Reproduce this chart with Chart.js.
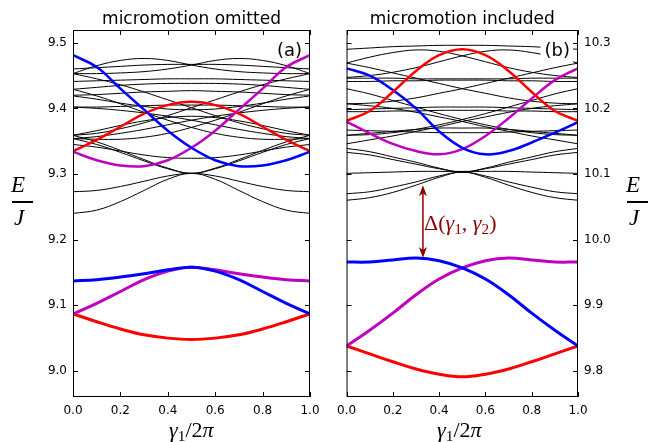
<!DOCTYPE html>
<html>
<head>
<meta charset="utf-8">
<script src="https://cdn.jsdelivr.net/npm/chart.js@4.4.1/dist/chart.umd.min.js"></script>
<style>
body { margin: 0; background: #fff; width: 659px; height: 442px; position: relative; overflow: hidden; }
canvas { position: absolute; top: 0; }
.m { position: absolute; font-family: "Liberation Serif", serif; line-height: 1; white-space: nowrap; color: #000; }
.m i { font-style: italic; }
.m sub { font-size: 0.7em; vertical-align: -0.25em; line-height: 0; }
.bar { position: absolute; height: 1.5px; background: #000; }
</style>
</head>
<body>
<canvas id="left" width="330" height="442" style="left:0"></canvas>
<canvas id="right" width="329" height="442" style="left:330px"></canvas>

<div class="m" style="left:11px;top:173px;font-size:23px"><i>E</i></div>
<div class="bar" style="left:12px;top:201px;width:21px"></div>
<div class="m" style="left:14px;top:206px;font-size:23px"><i>J</i></div>

<div class="m" style="left:626px;top:173px;font-size:23px"><i>E</i></div>
<div class="bar" style="left:627px;top:201px;width:21px"></div>
<div class="m" style="left:629px;top:206px;font-size:23px"><i>J</i></div>

<div class="m" id="xl1" style="top:419px;font-size:22px"><i>γ</i><sub>1</sub>/2<i>π</i></div>
<div class="m" id="xl2" style="top:419px;font-size:22px"><i>γ</i><sub>1</sub>/2<i>π</i></div>
<div class="m" style="left:424px;top:212px;font-size:22px;color:#8b0000">Δ(<i>γ</i><sub>1</sub>, <i>γ</i><sub>2</sub>)</div>

<script>
// gamma_1 / 2pi sample points
const gamma = [0, 0.1, 0.2, 0.3, 0.4, 0.5, 0.6, 0.7, 0.8, 0.9, 1.0];
const xTicks = [0, 0.2, 0.4, 0.6, 0.8, 1.0];
const leftTicks = [9.0, 9.1, 9.2, 9.3, 9.4, 9.5];
const rightTicks = [9.8, 9.9, 10.0, 10.1, 10.2, 10.3];

// (a) micromotion omitted - coloured bands
const aBlueTop = [9.481, 9.463, 9.430, 9.398, 9.366, 9.340, 9.321, 9.312, 9.313, 9.321, 9.334];
const aMagTop  = [9.334, 9.321, 9.313, 9.312, 9.321, 9.340, 9.366, 9.398, 9.430, 9.463, 9.481];
const aRedTop  = [9.335, 9.352, 9.372, 9.392, 9.405, 9.410, 9.405, 9.392, 9.372, 9.352, 9.335];
const aBlueBot = [9.137, 9.139, 9.143, 9.148, 9.154, 9.158, 9.152, 9.139, 9.121, 9.103, 9.087];
const aMagBot  = [9.087, 9.103, 9.121, 9.139, 9.152, 9.158, 9.154, 9.148, 9.143, 9.139, 9.137];
const aRedBot  = [9.087, 9.075, 9.064, 9.055, 9.050, 9.048, 9.050, 9.055, 9.064, 9.075, 9.087];

// (a) black bands
const aBlack = [
  [9.453, 9.465, 9.473, 9.476, 9.473, 9.466, 9.460, 9.456, 9.454, 9.453, 9.453],
  [9.453, 9.453, 9.454, 9.456, 9.460, 9.466, 9.473, 9.476, 9.473, 9.465, 9.453],
  [9.460, 9.462, 9.464, 9.466, 9.467, 9.467, 9.467, 9.466, 9.464, 9.462, 9.460],
  [9.441, 9.442, 9.443, 9.444, 9.445, 9.445, 9.445, 9.444, 9.443, 9.442, 9.441],
  [9.429, 9.432, 9.435, 9.437, 9.438, 9.438, 9.438, 9.437, 9.435, 9.432, 9.429],
  [9.420, 9.421, 9.423, 9.425, 9.426, 9.427, 9.426, 9.425, 9.423, 9.421, 9.420],
  [9.402, 9.402, 9.403, 9.404, 9.405, 9.405, 9.405, 9.404, 9.403, 9.402, 9.402],
  [9.419, 9.414, 9.408, 9.403, 9.399, 9.398, 9.399, 9.403, 9.408, 9.414, 9.419],
  [9.453, 9.445, 9.436, 9.425, 9.413, 9.401, 9.389, 9.378, 9.369, 9.362, 9.359],
  [9.359, 9.362, 9.369, 9.378, 9.389, 9.401, 9.413, 9.425, 9.436, 9.445, 9.453],
  [9.429, 9.419, 9.407, 9.394, 9.382, 9.371, 9.362, 9.356, 9.353, 9.353, 9.354],
  [9.354, 9.353, 9.353, 9.356, 9.362, 9.371, 9.382, 9.394, 9.407, 9.419, 9.429],
  [9.354, 9.357, 9.362, 9.368, 9.375, 9.382, 9.388, 9.393, 9.397, 9.400, 9.402],
  [9.402, 9.400, 9.397, 9.393, 9.388, 9.382, 9.375, 9.368, 9.362, 9.357, 9.354],
  [9.359, 9.366, 9.374, 9.381, 9.386, 9.388, 9.386, 9.381, 9.374, 9.366, 9.359],
  [9.354, 9.345, 9.333, 9.320, 9.308, 9.301, 9.308, 9.320, 9.333, 9.345, 9.354],
  [9.359, 9.349, 9.336, 9.322, 9.309, 9.301, 9.309, 9.322, 9.336, 9.349, 9.359],
  [9.345, 9.341, 9.335, 9.329, 9.325, 9.324, 9.325, 9.329, 9.335, 9.341, 9.345],
  [9.240, 9.245, 9.258, 9.275, 9.292, 9.301, 9.292, 9.275, 9.258, 9.245, 9.240],
  [9.273, 9.275, 9.281, 9.289, 9.297, 9.301, 9.297, 9.289, 9.281, 9.275, 9.273]
];

// (b) micromotion included - coloured bands
const bRedTop  = [10.181, 10.196, 10.225, 10.257, 10.281, 10.290, 10.281, 10.257, 10.225, 10.196, 10.181];
const bBlueTop = [10.261, 10.250, 10.228, 10.200, 10.165, 10.140, 10.130, 10.135, 10.148, 10.163, 10.179];
const bMagTop  = [10.180, 10.162, 10.146, 10.135, 10.130, 10.138, 10.158, 10.185, 10.215, 10.243, 10.261];
const bBlueBot = [9.966, 9.966, 9.969, 9.972, 9.968, 9.957, 9.940, 9.916, 9.888, 9.862, 9.838];
const bMagBot  = [9.838, 9.862, 9.888, 9.916, 9.940, 9.957, 9.968, 9.972, 9.969, 9.966, 9.966];
const bRedBot  = [9.838, 9.826, 9.814, 9.803, 9.795, 9.791, 9.795, 9.803, 9.814, 9.826, 9.838];

// (b) black bands
const bBlack = [
  [10.290, 10.292, 10.294, 10.295, 10.296, 10.296, 10.296, 10.295, 10.294, 10.292, 10.290],
  [10.269, 10.278, 10.285, 10.289, 10.287, 10.280, 10.271, 10.262, 10.255, 10.250, 10.247],
  [10.247, 10.250, 10.255, 10.262, 10.271, 10.280, 10.287, 10.289, 10.285, 10.278, 10.269],
  [10.246, 10.246, 10.246, 10.245, 10.245, 10.245, 10.245, 10.245, 10.246, 10.246, 10.246],
  [10.241, 10.241, 10.242, 10.242, 10.243, 10.243, 10.243, 10.242, 10.242, 10.241, 10.241],
  [10.269, 10.262, 10.254, 10.246, 10.238, 10.230, 10.223, 10.216, 10.211, 10.208, 10.207],
  [10.207, 10.208, 10.211, 10.216, 10.223, 10.230, 10.238, 10.246, 10.254, 10.262, 10.269],
  [10.230, 10.222, 10.212, 10.202, 10.192, 10.183, 10.175, 10.168, 10.163, 10.160, 10.159],
  [10.159, 10.160, 10.163, 10.168, 10.175, 10.183, 10.192, 10.202, 10.212, 10.222, 10.230],
  [10.198, 10.199, 10.200, 10.201, 10.202, 10.202, 10.202, 10.201, 10.200, 10.199, 10.198],
  [10.195, 10.195, 10.196, 10.196, 10.197, 10.197, 10.197, 10.196, 10.196, 10.195, 10.195],
  [10.159, 10.162, 10.165, 10.168, 10.170, 10.170, 10.170, 10.168, 10.165, 10.162, 10.159],
  [10.167, 10.166, 10.165, 10.164, 10.163, 10.163, 10.163, 10.164, 10.165, 10.166, 10.167],
  [10.146, 10.152, 10.158, 10.165, 10.172, 10.180, 10.187, 10.194, 10.200, 10.204, 10.207],
  [10.207, 10.204, 10.200, 10.194, 10.187, 10.180, 10.172, 10.165, 10.158, 10.152, 10.146],
  [10.139, 10.134, 10.126, 10.118, 10.109, 10.103, 10.109, 10.118, 10.126, 10.134, 10.139],
  [10.133, 10.129, 10.122, 10.115, 10.108, 10.103, 10.108, 10.115, 10.122, 10.129, 10.133],
  [10.060, 10.064, 10.072, 10.083, 10.095, 10.103, 10.095, 10.083, 10.072, 10.064, 10.060],
  [10.070, 10.073, 10.080, 10.088, 10.097, 10.103, 10.097, 10.088, 10.080, 10.073, 10.070],
  [10.101, 10.102, 10.103, 10.104, 10.104, 10.104, 10.104, 10.104, 10.103, 10.102, 10.101]
];

const blue = "#0000ff", red = "#ff0000", magenta = "#bf00bf", arrowColor = "#8b0000";

function line(values, color, width, order) {
  return {
    data: values.map((v, i) => ({ x: gamma[i], y: v })),
    borderColor: color,
    borderWidth: width,
    pointRadius: 0,
    fill: false,
    tension: 0.4,
    order: order
  };
}

// frame, inward ticks, panel label and gap arrow
const decor = {
  id: "decor",
  afterDatasetsDraw(chart, args, opts) {
    const ctx = chart.ctx, a = chart.chartArea, sx = chart.scales.x, sy = chart.scales.y;
    ctx.save();
    ctx.strokeStyle = "#000";
    ctx.lineWidth = 1;
    const seg = (x1, y1, x2, y2) => { ctx.beginPath(); ctx.moveTo(x1, y1); ctx.lineTo(x2, y2); ctx.stroke(); };
    sx.ticks.forEach(t => {
      const px = Math.round(sx.getPixelForValue(t.value)) + 0.5;
      seg(px, a.bottom, px, a.bottom - 5);
      seg(px, a.top, px, a.top + 5);
    });
    sy.ticks.forEach(t => {
      const py = Math.round(sy.getPixelForValue(t.value)) + 0.5;
      seg(a.left, py, a.left + 5, py);
      seg(a.right, py, a.right - 5, py);
    });

    if (opts.arrow) {
      const px = sx.getPixelForValue(opts.arrow.x);
      const y1 = sy.getPixelForValue(opts.arrow.from);
      const y2 = sy.getPixelForValue(opts.arrow.to);
      ctx.strokeStyle = arrowColor;
      ctx.fillStyle = arrowColor;
      ctx.lineWidth = 1.5;
      seg(px, y1 + 6, px, y2 - 6);
      const head = (tipY, dir) => {
        ctx.beginPath();
        ctx.moveTo(px, tipY);
        ctx.lineTo(px - 4, tipY + dir * 11);
        ctx.lineTo(px, tipY + dir * 8);
        ctx.lineTo(px + 4, tipY + dir * 11);
        ctx.closePath();
        ctx.fill();
      };
      head(y1, 1);
      head(y2, -1);
    }

    ctx.font = '18px "DejaVu Sans"';
    const w = ctx.measureText(opts.label).width;
    const right = a.right - 8, cy = a.top + 21;
    if (opts.box) {
      ctx.fillStyle = "#fff";
      ctx.fillRect(right - w - 4, cy - 12, w + 7, 24);
    }
    ctx.fillStyle = "#000";
    ctx.textAlign = "right";
    ctx.textBaseline = "middle";
    ctx.fillText(opts.label, right, cy);

    ctx.strokeStyle = "#000";
    ctx.lineWidth = 1;
    ctx.strokeRect(a.left + 0.5, a.top + 0.5, a.right - a.left - 1, a.bottom - a.top - 1);
    ctx.restore();
  }
};

function makeChart(id, title, colored, black, yMin, yMax, yTicks, yPos, pad, decorOpts) {
  const datasets = colored.concat(black.map(b => line(b, "#000", 1, 1)));
  const tickFont = { family: "DejaVu Sans", size: 12 };
  return new Chart(id, {
    type: "line",
    data: { datasets: datasets },
    options: {
      responsive: false,
      animation: false,
      layout: { padding: pad },
      plugins: {
        legend: { display: false },
        tooltip: { enabled: false },
        title: {
          display: true,
          text: title,
          fullSize: false,
          color: "#000",
          font: { family: "DejaVu Sans", size: 17, weight: "normal" },
          padding: { top: 9, bottom: 0.6 }
        },
        decor: decorOpts
      },
      scales: {
        x: {
          type: "linear",
          min: 0,
          max: 1,
          afterBuildTicks: s => { s.ticks = xTicks.map(v => ({ value: v })); },
          afterFit: s => { s.height = 24; },
          grid: { display: false, drawTicks: false },
          border: { display: false },
          ticks: { padding: 7, color: "#000", font: tickFont, maxRotation: 0, autoSkip: false,
                   callback: v => v.toFixed(1) }
        },
        y: {
          type: "linear",
          position: yPos,
          min: yMin,
          max: yMax,
          afterBuildTicks: s => { s.ticks = yTicks.map(v => ({ value: v })); },
          afterFit: s => { s.width = 40; },
          grid: { display: false, drawTicks: false },
          border: { display: false },
          ticks: { padding: 6, color: "#000", font: tickFont, callback: v => v.toFixed(1) }
        }
      }
    },
    plugins: [decor]
  });
}

makeChart("left", "micromotion omitted",
  [line(aBlueTop, blue, 2.5, 0), line(aMagTop, magenta, 2.5, 0), line(aRedTop, red, 2.5, 0),
   line(aBlueBot, blue, 3, 0), line(aMagBot, magenta, 3, 0), line(aRedBot, red, 3, 0)],
  aBlack, 8.9603, 9.5194, leftTicks, "left",
  { left: 33, right: 20, top: 0, bottom: 21 },
  { label: "(a)", box: false, arrow: null });

makeChart("right", "micromotion included",
  [line(bRedTop, red, 2.5, 0), line(bBlueTop, blue, 2.5, 0), line(bMagTop, magenta, 2.5, 0),
   line(bBlueBot, blue, 3, 0), line(bMagBot, magenta, 3, 0), line(bRedBot, red, 3, 0)],
  bBlack, 9.7603, 10.3194, rightTicks, "right",
  { left: 11, right: 41, top: 0, bottom: 21 },
  { label: "(b)", box: true, arrow: { x: 0.33, from: 10.083, to: 9.972 } });

// centre the x-axis labels under each panel
[["xl1", 191.5], ["xl2", 459.5]].forEach(([id, cx]) => {
  const el = document.getElementById(id);
  el.style.left = (cx - el.offsetWidth / 2) + "px";
});
</script>
</body>
</html>
